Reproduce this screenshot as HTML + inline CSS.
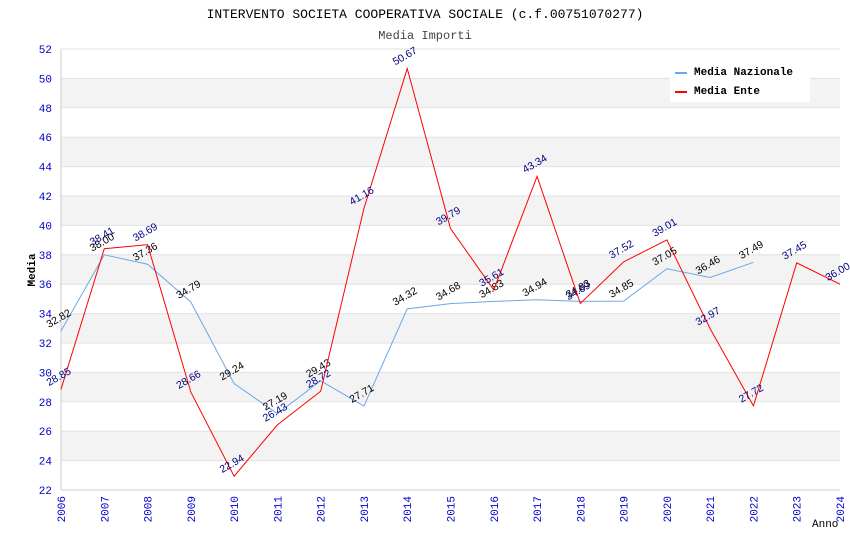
<!DOCTYPE html>
<html><head><meta charset="utf-8"><style>body{margin:0;background:#fff}svg{display:block}</style></head>
<body>
<svg id="c" width="850" height="550" font-family="Liberation Mono, monospace">
<text x="425" y="18" text-anchor="middle" font-size="13">INTERVENTO SOCIETA COOPERATIVA SOCIALE (c.f.00751070277)</text>
<text x="425" y="39" text-anchor="middle" font-size="12" fill="#444">Media Importi</text>
<g id="bands"></g><g id="axes"></g><g id="series"></g>
<text x="35" y="270" transform="rotate(-90 35 270)" text-anchor="middle" font-size="11" font-weight="bold">Media</text>
<text x="812" y="527" font-size="11">Anno</text>
<g>
<rect x="670" y="60" width="140" height="42" fill="#fff"/>
<line x1="675" y1="73" x2="687" y2="73" stroke="#6aa8e8" stroke-width="2"/>
<text x="694" y="75" font-size="11" font-weight="bold">Media Nazionale</text>
<line x1="675" y1="92" x2="687" y2="92" stroke="red" stroke-width="2"/>
<text x="694" y="94" font-size="11" font-weight="bold">Media Ente</text>
</g>
</svg>
<script>
const years=[2006,2007,2008,2009,2010,2011,2012,2013,2014,2015,2016,2017,2018,2019,2020,2021,2022,2023,2024];
const nazionale=[32.82,38.00,37.36,34.79,29.24,27.19,29.43,27.71,34.32,34.68,34.83,34.94,34.83,34.85,37.05,36.46,37.49,null,null];
const ente=[28.85,38.41,38.69,28.66,22.94,26.43,28.72,41.16,50.67,39.79,35.61,43.34,34.69,37.52,39.01,32.97,27.72,37.45,36.00];
const yTicks=[22,24,26,28,30,32,34,36,38,40,42,44,46,48,50,52];
const NS='http://www.w3.org/2000/svg';
const x0=61,x1=840,y0=490,y1=49;
const X=i=>x0+(x1-x0)*i/(years.length-1);
const Y=v=>y0-(v-22)/(52-22)*(y0-y1);
function mk(t,a,p){const e=document.createElementNS(NS,t);for(const k in a)e.setAttribute(k,a[k]);p.appendChild(e);return e;}
const bands=document.getElementById('bands'),axes=document.getElementById('axes'),ser=document.getElementById('series');
for(let k=0;k<yTicks.length-1;k++){
 if(k%2===1){const r=mk('rect',{x:x0,y:Y(yTicks[k+1]),width:x1-x0,height:Y(yTicks[k])-Y(yTicks[k+1]),fill:'#f3f3f3'},bands);
 }
}
yTicks.forEach(v=>{
 const l=mk('line',{x1:x0,x2:x1,y1:Y(v),y2:Y(v),stroke:'#e2e2e2'},axes);
 
 const t=mk('text',{x:x0-9,y:Y(v)+4,'text-anchor':'end','font-size':11,fill:'#00c'},axes);t.textContent=v;
 
});
mk('line',{x1:x0,x2:x0,y1:y1,y2:y0,stroke:'#ccc'},axes);
mk('line',{x1:x0,x2:x1,y1:y0,y2:y0,stroke:'#ccc'},axes);
years.forEach((yr,i)=>{
 const t=mk('text',{x:X(i)+4,y:y0+6,'text-anchor':'end','font-size':11,fill:'#00c',transform:`rotate(-90 ${X(i)+4} ${y0+6})`},axes);t.textContent=yr;
 
});
function draw(arr,color,txtColor,name){
 let d='';arr.forEach((v,i)=>{if(v==null)return;d+=(d?'L':'M')+X(i)+','+Y(v);});
 const p=mk('path',{d:d,fill:'none',stroke:color,'stroke-width':1},ser);
 
 arr.forEach((v,i)=>{if(v==null)return;
  const x=X(i)-12,y=Y(v)-3;
  const t=mk('text',{x:x,y:y,'font-size':10.5,fill:txtColor,'font-family':'Liberation Sans, sans-serif',transform:`rotate(-30 ${x} ${y})`},ser);
  t.textContent=v.toFixed(2);
  
 });
}
draw(nazionale,'#6aa8e8','#000','nazionale');
draw(ente,'#f00','#000080','ente');
</script>
</body></html>
